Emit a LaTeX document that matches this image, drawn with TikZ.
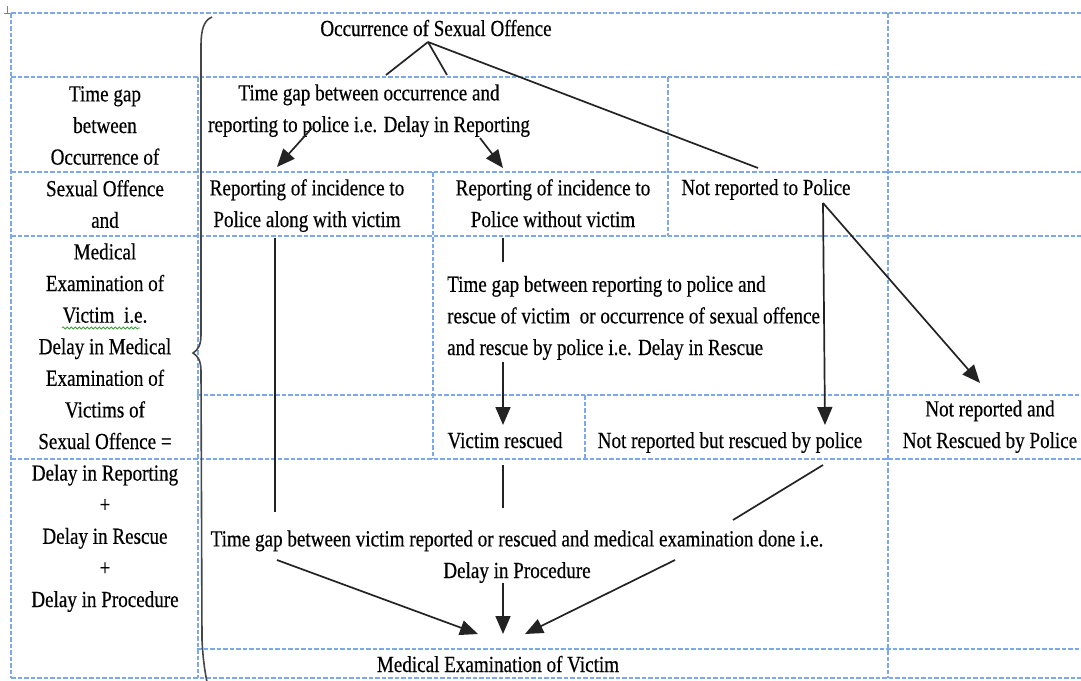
\documentclass[tikz,border=0pt]{standalone}
\usepackage{fontspec}
\setmainfont{Liberation Serif}[FakeStretch=0.83,FakeBold=0.4]
\usetikzlibrary{arrows.meta,decorations.pathmorphing}
\definecolor{gridblue}{RGB}{125,168,236}
\definecolor{linegray}{RGB}{35,35,35}
\definecolor{bracegray}{RGB}{70,70,70}
\definecolor{spellgreen}{RGB}{60,160,60}
\begin{document}
\begin{tikzpicture}[x=1pt,y=-1pt,
  grid/.style={draw=gridblue, line width=1.4pt, dash pattern=on 4.5pt off 2pt},
  txt/.style={inner sep=0pt, font=\fontsize{23}{31.6}\selectfont, align=center, anchor=base},
  ltxt/.style={txt, align=left, anchor=base west},
  conn/.style={draw=linegray, line width=1.7pt},
  arr/.style={conn, -{Triangle[length=18pt,width=15pt]}}
]
\useasboundingbox (0,0) rectangle (1081,680);
% grid
\draw[grid] (11,13) -- (1081,13);
\draw[grid] (11,77) -- (1081,77);
\draw[grid] (11,172) -- (1081,172);
\draw[grid] (11,236) -- (1081,236);
\draw[grid] (197,395) -- (1081,395);
\draw[grid] (11,459) -- (1081,459);
\draw[grid] (197,649) -- (1081,649);
\draw[grid] (11,678) -- (1081,678);
\draw[grid] (11,13) -- (11,678);
\draw[grid] (198,77) -- (198,678);
\draw[grid] (888,13) -- (888,678);
\draw[grid] (668,77) -- (668,236);
\draw[grid] (433,172) -- (433,459);
\draw[grid] (585,395) -- (585,459);
% table handle mark
\draw[gray, line width=1pt] (7,6) -- (7,13) (4,13) -- (10,13);
% brace
\draw[bracegray, line width=1.6pt] (212,17) .. controls (204,20) and (201,30) .. (201,45) -- (201,335)
  .. controls (201,345) and (198,350) .. (193,353) .. controls (198,356) and (201,361) .. (201,371)
  -- (202,640) .. controls (203,660) and (205,672) .. (207,682);
% texts
\node[txt] (occ) at (436,36) {Occurrence of Sexual Offence};
\node[txt] (left) at (105,607) {Time gap\\between\\Occurrence of\\Sexual Offence\\and\\Medical\\Examination of\\Victim\ \ i.e.\\Delay in Medical\\Examination of\\Victims of\\Sexual Offence =\\Delay in Reporting\\+\\Delay in Rescue\\+\\Delay in Procedure};
\draw[spellgreen, line width=0.8pt, decorate, decoration={snake, amplitude=1pt, segment length=4pt}] (62,328) -- (140,328);
\node[txt] (tg1) at (369,132) {Time gap between occurrence and\\reporting to police i.e. Delay in Reporting};
\node[txt] (rep1) at (307,227) {Reporting of incidence to\\Police along with victim};
\node[txt] (rep2) at (553,227) {Reporting of incidence to\\Police without victim};
\node[txt] (notrep) at (766,195) {Not reported to Police};
\node[ltxt] (tg2) at (447,355) {Time gap between reporting to police and\\rescue of victim\ \ or occurrence of sexual offence\\and rescue by police i.e. Delay in Rescue};
\node[txt] (resc) at (505,448) {Victim rescued};
\node[txt] (nrr) at (730,448) {Not reported but rescued by police};
\node[txt] (nrnr) at (990,448) {Not reported and\\Not Rescued by Police};
\node[txt] (tg3) at (517,578) {Time gap between victim reported or rescued and medical examination done i.e.\\Delay in Procedure};
\node[txt] (med) at (498,672) {Medical Examination of Victim};
% connector coordinates
\coordinate (o1) at (428,42);
\coordinate (o1a) at (386,75);
\coordinate (o1b) at (447,75);
\coordinate (o1c) at (758,168);
\coordinate (t1a) at (312,128);
\coordinate (t1ae) at (277,167);
\coordinate (t1b) at (480,138);
\coordinate (t1be) at (503,168);
\coordinate (r1s) at (275,238);
\coordinate (r1e) at (275,512);
\coordinate (r2s) at (503,238);
\coordinate (r2e) at (503,262);
\coordinate (t2s) at (503,362);
\coordinate (t2e) at (503,425);
\coordinate (vrs) at (503,465);
\coordinate (vre) at (503,508);
\coordinate (np) at (823,203);
\coordinate (npe1) at (825,425);
\coordinate (npe2) at (980,383);
\coordinate (nrs) at (823,465);
\coordinate (nre) at (733,520);
\coordinate (p1) at (277,560);
\coordinate (p2) at (503,583);
\coordinate (p3) at (675,560);
\coordinate (m1) at (478,634);
\coordinate (m2) at (503,634);
\coordinate (m3) at (525,634);
% connectors
\draw[conn] (o1) -- (o1a);
\draw[conn] (o1) -- (o1b);
\draw[conn] (o1) -- (o1c);
\draw[arr] (t1a) -- (t1ae);
\draw[arr] (t1b) -- (t1be);
\draw[conn] (r1s) -- (r1e);
\draw[conn] (r2s) -- (r2e);
\draw[arr] (t2s) -- (t2e);
\draw[conn] (vrs) -- (vre);
\draw[arr] (np) -- (npe1);
\draw[arr] (np) -- (npe2);
\draw[conn] (nrs) -- (nre);
\draw[arr] (p1) -- (m1);
\draw[arr] (p2) -- (m2);
\draw[arr] (p3) -- (m3);
\end{tikzpicture}
\end{document}
